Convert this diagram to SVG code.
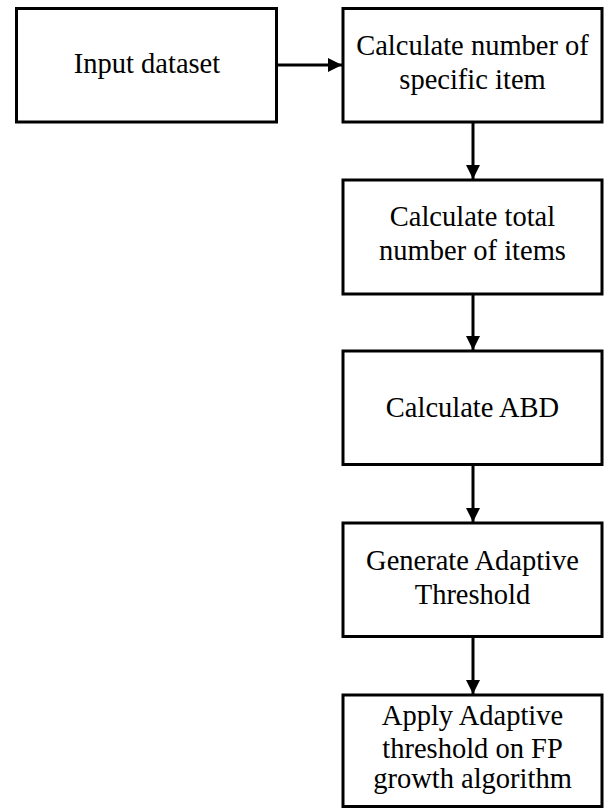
<svg xmlns="http://www.w3.org/2000/svg" width="604" height="808" viewBox="0 0 604 808">
<style>
.box{fill:#fff;stroke:#000;stroke-width:3}
.c{stroke:#000;stroke-width:3;fill:none;marker-end:url(#ah)}
text{font-family:"Times New Roman",Times,"Liberation Serif",Tinos,"DejaVu Serif",serif;font-size:28.5px;fill:#000;text-anchor:middle}
</style>
<defs>
<marker id="ah" viewBox="0 0 10 10" refX="10" refY="5" markerWidth="14" markerHeight="14" markerUnits="userSpaceOnUse" orient="auto">
<path d="M0,0 L10,5 L0,10 Z" fill="#000"/>
</marker>
</defs>
<rect width="604" height="808" fill="#fff"/>
<g id="connectors">
<line class="c" x1="277" y1="65" x2="342" y2="65"/>
<line class="c" x1="473" y1="122" x2="473" y2="179"/>
<line class="c" x1="473" y1="294" x2="473" y2="350"/>
<line class="c" x1="473" y1="465" x2="473" y2="522"/>
<line class="c" x1="473" y1="637" x2="473" y2="694"/>
</g>
<g id="n1"><rect class="box" x="16.5" y="8.5" width="260" height="113.5"/><text x="147" y="73">Input dataset</text></g>
<g id="n2"><rect class="box" x="343" y="8.5" width="259" height="113.5"/><text x="472.5" y="55">Calculate number of</text><text x="472.5" y="89">specific item</text></g>
<g id="n3"><rect class="box" x="343" y="180" width="259" height="114"/><text x="472.5" y="226">Calculate total</text><text x="472.5" y="260">number of items</text></g>
<g id="n4"><rect class="box" x="343" y="351" width="259" height="113.5"/><text x="472.5" y="417">Calculate ABD</text></g>
<g id="n5"><rect class="box" x="343" y="523" width="259" height="113.5"/><text x="472.5" y="570">Generate Adaptive</text><text x="472.5" y="604">Threshold</text></g>
<g id="n6"><rect class="box" x="343" y="695" width="259" height="111.5"/><text x="472.5" y="725">Apply Adaptive</text><text x="472.5" y="758">threshold on FP</text><text x="472.5" y="788">growth algorithm</text></g>
</svg>
